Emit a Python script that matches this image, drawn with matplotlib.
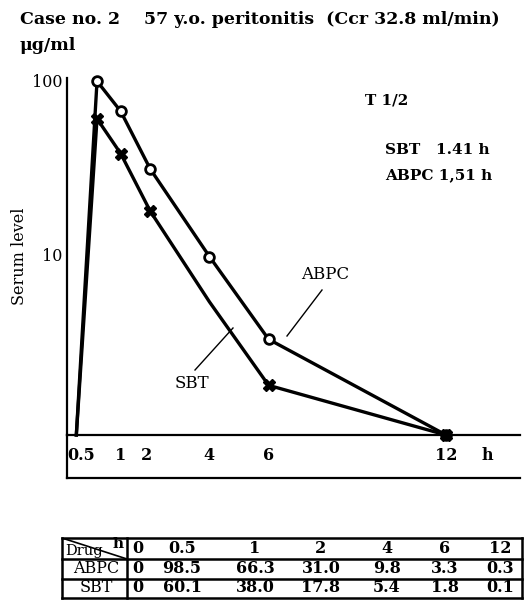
import numpy as np
import matplotlib
matplotlib.use("Agg")
import matplotlib.pyplot as plt
from matplotlib.lines import Line2D

plt.rcParams['font.family'] = ['DejaVu Serif']

# data
hours = [0, 0.5, 1, 2, 4, 6, 12]
hour_labels = ['0', '0.5', '1', '2', '4', '6', '12']
abpc = [0, 98.5, 66.3, 31.0, 9.8, 3.3, 0.3]
sbt = [0, 60.1, 38.0, 17.8, 5.4, 1.8, 0.1]
drugs = ['ABPC', 'SBT']
half_life = {'SBT': '1.41 h', 'ABPC': '1,51 h'}

W, H = 530, 600


def fx(x):
    return x / W


def fy(y):
    return 1 - y / H


# the time axis of the original is stretched in the first hour
def fwd(t):
    t = np.asarray(t, dtype=float)
    return np.where(t >= 1, t, np.where(t >= 0.5, 0.2 + (t - 0.5) * 1.6, 0.2 + (t - 0.5) * 1.4))


def inv(u):
    u = np.asarray(u, dtype=float)
    return np.where(u >= 1, u, np.where(u >= 0.2, 0.5 + (u - 0.2) / 1.6, 0.5 + (u - 0.2) / 1.4))


fig = plt.figure(figsize=(5.3, 6.0), dpi=100)
ax = fig.add_axes([fx(67), fy(435), fx(453), (435 - 78) / H])

ax.set_xscale('function', functions=(fwd, inv))
ax.set_yscale('log')
ylow = 0.936
ax.set_xlim(-0.225, 14.5)
ax.set_ylim(ylow, 102.7)

ax.plot(hours, np.clip(abpc, ylow, None), color='black', lw=2.4,
        marker='o', markevery=[1, 2, 3, 4, 5, 6], ms=7, mfc='white',
        mec='black', mew=2, clip_on=False, zorder=3)
ax.plot(hours, np.clip(sbt, ylow, None), color='black', lw=2.4,
        marker='X', markevery=[1, 2, 3, 5, 6], ms=8, mfc='black',
        mec='black', clip_on=False, zorder=3)

for side in ['top', 'right']:
    ax.spines[side].set_visible(False)
for side in ['left', 'bottom']:
    ax.spines[side].set_linewidth(1.6)

ax.set_yticks([10, 100])
ax.set_yticklabels(['10', '100'])
ax.yaxis.set_minor_locator(matplotlib.ticker.NullLocator())
ax.tick_params(axis='y', length=0, pad=3, labelsize=11.5)
ax.set_xticks([])
ax.xaxis.set_minor_locator(matplotlib.ticker.NullLocator())

# x labels sit in a box under the axis
shift = {'0.5': -16, '2': -4}
for t, lab in zip(hours[1:], hour_labels[1:]):
    ax.annotate(lab, xy=(t, 0), xycoords=('data', 'axes fraction'),
                xytext=(shift.get(lab, 0), -20), textcoords='offset pixels',
                ha='center', va='center', fontsize=11.5, fontweight='bold')
ax.annotate('h', xy=(13.4, 0), xycoords=('data', 'axes fraction'),
            xytext=(0, -20), textcoords='offset pixels',
            ha='center', va='center', fontsize=11.5, fontweight='bold')
fig.add_artist(Line2D([fx(67), fx(67)], [fy(435), fy(478)], color='black', lw=1.6))
fig.add_artist(Line2D([fx(67), fx(520)], [fy(478), fy(478)], color='black', lw=1.6))

ax.set_ylabel('Serum level', fontsize=11.5)
ax.yaxis.set_label_coords(-0.085, 0.5)

fig.text(fx(20), fy(20), 'Case no. 2    57 y.o. peritonitis  (Ccr 32.8 ml/min)',
         fontsize=12.5, fontweight='bold', va='center', ha='left')
fig.text(fx(20), fy(45), '\u03bcg/ml', fontsize=12.5, fontweight='bold', va='center', ha='left')

fig.text(fx(365), fy(100), 'T 1/2', fontsize=11, fontweight='bold', va='center', ha='left')
fig.text(fx(385), fy(150), 'SBT   ' + half_life['SBT'], fontsize=11, fontweight='bold',
         va='center', ha='left')
fig.text(fx(385), fy(175), 'ABPC ' + half_life['ABPC'], fontsize=11, fontweight='bold',
         va='center', ha='left')

# drug labels with leader lines
fig.text(fx(325), fy(275), drugs[0], fontsize=12, va='center', ha='center')
fig.add_artist(Line2D([fx(322), fx(287)], [fy(290), fy(336)], color='black', lw=1))
fig.text(fx(192), fy(383), drugs[1], fontsize=12, va='center', ha='center')
fig.add_artist(Line2D([fx(195), fx(233)], [fy(370), fy(328)], color='black', lw=1))

# table of values
tab = fig.add_axes([fx(62), fy(598), fx(460), 60 / H])
tab.set_xlim(62, 522)
tab.set_ylim(598, 538)
tab.axis('off')
for y in [538, 559, 579, 598]:
    tab.plot([62, 522], [y, y], color='black', lw=1.8, clip_on=False)
for x in [62, 127, 522]:
    tab.plot([x, x], [538, 598], color='black', lw=1.8, clip_on=False)
tab.plot([62, 127], [538, 559], color='black', lw=1.2)
tab.text(65, 551, 'Drug', fontsize=10.5, ha='left', va='center')
tab.text(124, 544, 'h', fontsize=11, fontweight='bold', ha='right', va='center')

col_x = [138, 182, 255, 321, 387, 445, 500]
for cx, lab in zip(col_x, hour_labels):
    tab.text(cx, 549, lab, fontsize=11.5, fontweight='bold', ha='center', va='center')
for ry, name, vals in zip([569, 588], drugs, [abpc, sbt]):
    tab.text(96, ry, name, fontsize=11.5, ha='center', va='center')
    for cx, v in zip(col_x, vals):
        txt = '0' if v == 0 else f'{v:.1f}'
        tab.text(cx, ry, txt, fontsize=11.5, fontweight='bold', ha='center', va='center')

fig.savefig('out.png', dpi=100)
